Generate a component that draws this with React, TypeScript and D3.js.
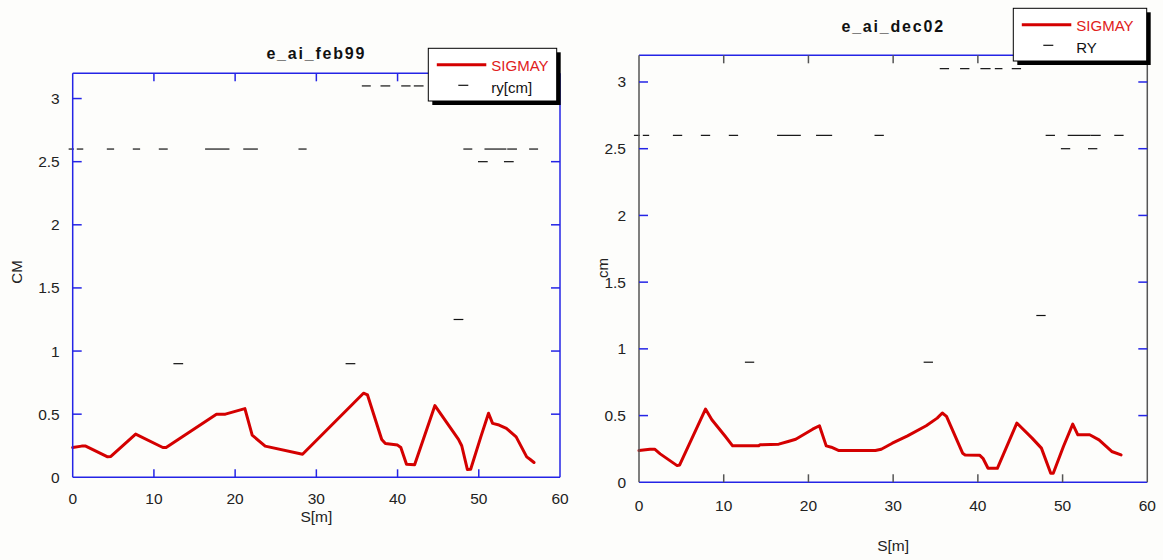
import React from "react";
import * as d3 from "d3";

// ---- data ----
const xTicks = [0, 10, 20, 30, 40, 50, 60];
const yTicks = [0, 0.5, 1, 1.5, 2, 2.5, 3];
const yTickLabels = ["0", "0.5", "1", "1.5", "2", "2.5", "3"];

// SIGMAY, feb99 (s [m], value [cm])
const feb99S = [0, 1.1, 1.6, 4.3, 4.7, 7.75, 11.1, 11.5, 17.7, 18.8, 21.2, 22.1, 23.7, 28.3, 35.8, 36.3, 38.05, 38.5, 40.0, 40.4, 41.1, 42.1, 44.6, 47.5, 47.9, 48.6, 49.0, 50.25, 51.2, 51.7, 52.5, 53.4, 54.6, 55.9, 56.3, 56.8];
const feb99V = [0.236, 0.247, 0.247, 0.162, 0.165, 0.342, 0.236, 0.236, 0.5, 0.5, 0.544, 0.334, 0.247, 0.183, 0.666, 0.652, 0.3, 0.268, 0.255, 0.236, 0.103, 0.1, 0.568, 0.3, 0.25, 0.061, 0.064, 0.32, 0.507, 0.427, 0.414, 0.387, 0.32, 0.162, 0.143, 0.117];

// SIGMAY, dec02
const dec02S = [0, 1.3, 1.85, 2.5, 4.5, 4.8, 7.85, 8.6, 10.2, 11.05, 14.1, 14.3, 16.5, 17.6, 18.5, 19.4, 20.5, 21.3, 22.1, 22.7, 23.6, 27.9, 28.6, 29.9, 31.7, 33.9, 35.2, 35.8, 36.3, 38.2, 38.5, 40.2, 40.6, 41.2, 42.3, 44.6, 46.4, 47.5, 48.6, 48.9, 50.1, 51.2, 51.8, 53.2, 54.3, 55.8, 56.9];
const dec02V = [0.238, 0.248, 0.248, 0.213, 0.125, 0.13, 0.549, 0.469, 0.343, 0.273, 0.273, 0.281, 0.286, 0.306, 0.323, 0.356, 0.398, 0.424, 0.273, 0.263, 0.238, 0.238, 0.248, 0.293, 0.348, 0.424, 0.481, 0.519, 0.494, 0.218, 0.205, 0.203, 0.18, 0.105, 0.105, 0.444, 0.331, 0.256, 0.068, 0.068, 0.268, 0.436, 0.356, 0.356, 0.318, 0.231, 0.205];

// RY aperture segments: [s start, s end, value]
const feb99Ry: [number, number, number][] = [
  [-0.5, 0.15, 2.6], [0.5, 1.3, 2.6], [4.2, 5.1, 2.6], [7.4, 8.3, 2.6], [10.6, 11.7, 2.6],
  [16.3, 19.3, 2.6], [21.0, 22.8, 2.6], [27.8, 28.8, 2.6],
  [48.1, 49.2, 2.6], [50.7, 53.4, 2.6], [53.5, 54.7, 2.6], [56.2, 57.3, 2.6],
  [49.9, 51.1, 2.5], [53.1, 54.3, 2.5],
  [35.6, 36.7, 3.1], [37.9, 39.1, 3.1], [40.45, 41.6, 3.1], [42.0, 43.2, 3.1], [44.0, 45.1, 3.1],
  [12.4, 13.6, 0.9], [33.6, 34.8, 0.9],
  [46.9, 48.1, 1.25],
];
const dec02Ry: [number, number, number][] = [
  [-0.6, 0.1, 2.6], [0.45, 1.2, 2.6], [4.0, 5.1, 2.6], [7.3, 8.4, 2.6], [10.6, 11.7, 2.6],
  [16.3, 19.1, 2.6], [20.9, 22.8, 2.6], [27.8, 28.9, 2.6],
  [48.0, 49.1, 2.6], [50.6, 53.3, 2.6], [53.3, 54.5, 2.6], [56.1, 57.2, 2.6],
  [49.8, 50.9, 2.5], [53.0, 54.1, 2.5],
  [35.5, 36.6, 3.1], [37.9, 39.0, 3.1], [40.3, 41.5, 3.1], [42.0, 42.9, 3.1], [44.0, 45.1, 3.1],
  [12.5, 13.6, 0.9], [33.6, 34.7, 0.9],
  [46.9, 48.0, 1.25],
];

// ---- styling / layout ----
const BLUE = "#2424e6";
const GREY = "#555555";
const RED = "#d40000";
const FONT = "'Liberation Sans', Arial, sans-serif";
const BG = "#fdfdfb";

type Panel = {
  title: string; ylabel: string; s: number[]; v: number[]; ry: [number, number, number][];
  x0: number; x1: number; yT: number; yB: number; titleY: number; ylabelX: number; ylabelY: number;
  xlabelY: number; tickLabelY: number; sideColor: string; xTickColor: string;
  legend: { x: number; y: number; w: number; h: number; label2: string };
};

const panels: Panel[] = [
  {
    title: "e_ai_feb99", ylabel: "CM", s: feb99S, v: feb99V, ry: feb99Ry,
    x0: 72.7, x1: 560, yT: 73.3, yB: 477.3, titleY: 59, ylabelX: 22, ylabelY: 272,
    xlabelY: 522, tickLabelY: 504, sideColor: BLUE, xTickColor: BLUE,
    legend: { x: 428.3, y: 48.3, w: 128.4, h: 52.7, label2: "ry[cm]" },
  },
  {
    title: "e_ai_dec02", ylabel: "cm", s: dec02S, v: dec02V, ry: dec02Ry,
    x0: 639, x1: 1147.3, yT: 55.3, yB: 482.3, titleY: 32, ylabelX: 608, ylabelY: 268,
    xlabelY: 551, tickLabelY: 511, sideColor: GREY, xTickColor: GREY,
    legend: { x: 1013.3, y: 8.3, w: 133.4, h: 52.7, label2: "RY" },
  },
];

function PanelView({ p }: { p: Panel }) {
  const x = d3.scaleLinear().domain([0, 60]).range([p.x0, p.x1]);
  const y = d3.scaleLinear().domain([0, 3.2]).range([p.yB, p.yT]);
  const pts = p.s.map((s, i) => [s, p.v[i]] as [number, number]);
  const line = d3.line<[number, number]>().x((d) => x(d[0])).y((d) => y(d[1]));
  const L = p.legend;
  return (
    <g>
      <text x={(p.x0 + p.x1) / 2} y={p.titleY} textAnchor="middle" fontFamily={FONT} fontWeight="bold" fontSize={16} letterSpacing={1.8} fill="#111">{p.title}</text>
      {/* curve */}
      <path d={line(pts) || ""} fill="none" stroke={RED} strokeWidth={3} strokeLinejoin="round" strokeLinecap="round" />
      {/* ry segments */}
      {p.ry.map((r, i) => (
        <line key={i} x1={x(r[0])} x2={x(r[1])} y1={y(r[2])} y2={y(r[2])} stroke="#111" strokeWidth={1.2} />
      ))}
      {/* spines */}
      <line x1={p.x0} x2={p.x1} y1={p.yT} y2={p.yT} stroke={BLUE} strokeWidth={1.5} />
      <line x1={p.x0} x2={p.x1} y1={p.yB} y2={p.yB} stroke={BLUE} strokeWidth={1.5} />
      <line x1={p.x0} x2={p.x0} y1={p.yT} y2={p.yB} stroke={p.sideColor} strokeWidth={1.5} />
      <line x1={p.x1} x2={p.x1} y1={p.yT} y2={p.yB} stroke={p.sideColor} strokeWidth={1.5} />
      {/* x ticks */}
      {xTicks.map((t) => (
        <g key={"x" + t}>
          {t > 0 && t < 60 && (
            <>
              <line x1={x(t)} x2={x(t)} y1={p.yB} y2={p.yB - 8} stroke={p.xTickColor} strokeWidth={1.5} />
              <line x1={x(t)} x2={x(t)} y1={p.yT} y2={p.yT + 8} stroke={p.xTickColor} strokeWidth={1.5} />
            </>
          )}
          <text x={x(t)} y={p.tickLabelY} textAnchor="middle" fontFamily={FONT} fontSize={15.5} fill="#222">{t}</text>
        </g>
      ))}
      {/* y ticks */}
      {yTicks.map((t, i) => (
        <g key={"y" + t}>
          {t > 0 && (
            <>
              <line x1={p.x0} x2={p.x0 + 9} y1={y(t)} y2={y(t)} stroke={BLUE} strokeWidth={1.5} />
              <line x1={p.x1} x2={p.x1 - 9} y1={y(t)} y2={y(t)} stroke={BLUE} strokeWidth={1.5} />
            </>
          )}
          <text x={p.x0 - 13} y={y(t) + 5.5} textAnchor="end" fontFamily={FONT} fontSize={15.5} fill="#222">{yTickLabels[i]}</text>
        </g>
      ))}
      <text x={(p.x0 + p.x1) / 2} y={p.xlabelY} textAnchor="middle" fontFamily={FONT} fontSize={15.5} fill="#222">S[m]</text>
      <text transform={`translate(${p.ylabelX},${p.ylabelY}) rotate(-90)`} textAnchor="middle" fontFamily={FONT} fontSize={15} fill="#222">{p.ylabel}</text>
      {/* legend */}
      <rect x={L.x + 4} y={L.y + 4} width={L.w} height={L.h} fill="#000" />
      <rect x={L.x} y={L.y} width={L.w} height={L.h} fill="#fff" stroke="#000" strokeWidth={1} />
      <line x1={L.x + 8.5} x2={L.x + 58} y1={L.y + 16.5} y2={L.y + 16.5} stroke={RED} strokeWidth={3} />
      <text x={L.x + 63} y={L.y + 22.5} fontFamily={FONT} fontSize={15} fill="#e02020">SIGMAY</text>
      <line x1={L.x + 30} x2={L.x + 40} y1={L.y + 37} y2={L.y + 37} stroke="#111" strokeWidth={1.2} />
      <text x={L.x + 63} y={L.y + 44.5} fontFamily={FONT} fontSize={15} fill="#111">{L.label2}</text>
    </g>
  );
}

export default function App() {
  return (
    <svg width={1163} height={560} style={{ position: "absolute", left: 0, top: 0, background: BG }}>
      <rect x={0} y={0} width={1163} height={560} fill={BG} />
      {panels.map((p) => (
        <PanelView key={p.title} p={p} />
      ))}
    </svg>
  );
}
